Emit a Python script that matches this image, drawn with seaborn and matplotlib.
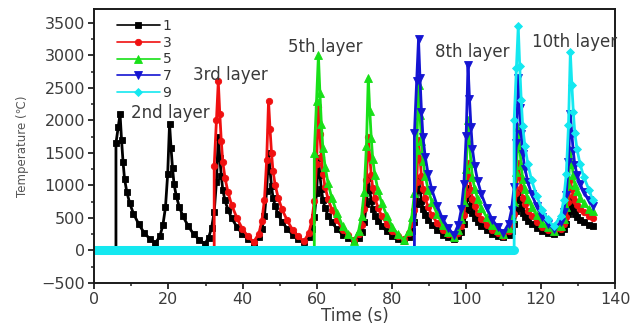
import numpy as np
import matplotlib
matplotlib.use("Agg")
import matplotlib.pyplot as plt
from matplotlib.ticker import MultipleLocator, AutoMinorLocator
import seaborn as sns

sns.set_theme(style="white")
plt.rcParams["font.family"] = ["DejaVu Sans"]

nan = np.nan

# Laser pass peak times (s) and sample offsets (s) around each peak
pass_peak_s = [7.0, 20.3, 33.4, 46.9, 60.3, 73.7, 87.2, 100.5, 114.0, 128.0]
offset_s = [-2.6, -1.8, -1.1, -0.5, 0.0, 0.4, 0.8, 1.2, 1.8, 2.6, 3.6, 5.0, 6.5, 8.0, 9.5]
end_time_s = 134.0

layer_labels = ["1", "3", "5", "7", "9"]
first_pass = [0, 2, 4, 6, 8]
end_temp = [380, 500, 600, 690, 780]

# Temperature (deg C) per pass, sampled at pass_peak + offset_s
temp_layer1 = [
    [nan, nan, 1650, 1900, 2100, 1702, 1364, 1105, 906, 727, 568, 408, 269, 180, 110],
    [220, 386, 662, 1177, 1950, 1580, 1266, 1025, 840, 674, 526, 378, 248, 165, 100],
    [199, 348, 595, 1057, 1750, 1424, 1147, 935, 772, 625, 495, 365, 250, 177, 120],
    [203, 327, 534, 920, 1500, 1226, 993, 815, 678, 555, 445, 336, 240, 178, 130],
    [207, 324, 517, 878, 1420, 1164, 946, 780, 652, 537, 434, 332, 242, 185, 140],
    [199, 287, 434, 708, 1120, 926, 761, 635, 538, 451, 373, 296, 228, 184, 150],
    [208, 296, 441, 713, 1120, 930, 769, 645, 550, 465, 389, 313, 246, 203, 170],
    [217, 289, 407, 628, 960, 808, 679, 580, 504, 436, 375, 314, 261, 227, 200],
    [242, 305, 410, 606, 900, 770, 660, 575, 510, 452, 400, 348, 302, 273, 250],
    [282, 330, 409, 557, 780, 690, 614, 555, 510, 470, 434, 398],
]
temp_layer3 = [
    [nan, nan, 1300, 2000, 2600, 2106, 1686, 1365, 1118, 896, 698, 501, 328, 216, 130],
    [260, 456, 781, 1389, 2300, 1868, 1501, 1220, 1004, 810, 637, 464, 313, 216, 140],
    [264, 449, 758, 1335, 2200, 1792, 1445, 1180, 976, 792, 629, 466, 323, 231, 160],
    [255, 399, 637, 1082, 1750, 1434, 1165, 960, 802, 660, 533, 407, 296, 225, 170],
    [262, 400, 629, 1057, 1700, 1400, 1145, 950, 800, 665, 545, 425, 320, 253, 200],
    [269, 373, 545, 867, 1350, 1126, 936, 790, 678, 577, 488, 398, 320, 269, 230],
    [297, 398, 566, 880, 1350, 1136, 954, 815, 708, 612, 526, 441, 366, 317, 280],
    [328, 400, 520, 744, 1080, 952, 843, 760, 696, 638, 587, 536],
]
temp_layer5 = [
    [nan, nan, 1500, 2300, 3000, 2430, 1946, 1575, 1290, 1034, 806, 578, 378, 250, 150],
    [300, 525, 900, 1600, 2650, 2152, 1729, 1405, 1156, 932, 733, 534, 359, 247, 160],
    [303, 519, 877, 1546, 2550, 2082, 1684, 1380, 1146, 935, 748, 561, 397, 292, 210],
    [317, 479, 747, 1248, 2000, 1650, 1353, 1125, 950, 793, 653, 513, 390, 311, 250],
    [349, 498, 745, 1207, 1900, 1580, 1308, 1100, 940, 796, 668, 540, 428, 356, 300],
    [375, 488, 675, 1025, 1550, 1336, 1154, 1015, 908, 812, 726, 641],
]
temp_layer7 = [
    [nan, nan, 1800, 2600, 3250, 2648, 2136, 1745, 1444, 1173, 932, 692, 481, 345, 240],
    [397, 632, 1023, 1754, 2850, 2334, 1895, 1560, 1302, 1070, 863, 657, 476, 360, 270],
    [413, 627, 984, 1650, 2650, 2186, 1792, 1490, 1258, 1049, 864, 678, 516, 411, 330],
    [436, 596, 861, 1357, 2100, 1788, 1523, 1320, 1164, 1024, 899, 774],
]
temp_layer9 = [
    [nan, nan, 2000, 2800, 3450, 2834, 2310, 1910, 1602, 1325, 1078, 832, 616, 478, 370],
    [531, 772, 1174, 1924, 3050, 2552, 2129, 1805, 1556, 1332, 1133, 934],
]

layer_temps = [temp_layer1, temp_layer3, temp_layer5, temp_layer7, temp_layer9]

layer_text = ["2nd layer", "3rd layer", "5th layer", "8th layer", "10th layer"]
layer_text_x = [9.9, 26.6, 52.0, 91.7, 117.7]
layer_text_y = [2115, 2700, 3130, 3054, 3208]

colors = ["#000000", "#f01010", "#18e018", "#1414d2", "#14e8f0"]
markers = ["s", "o", "^", "v", "D"]
marker_sizes = [4.2, 4.6, 5.2, 5.2, 4.4]


def build_curve(first, passes, end_value):
    """Ambient stretch at 0 deg C, then the sampled thermal cycles."""
    t, temp = [0.0], [0.0]
    started = False
    for k, vals in enumerate(passes):
        peak = pass_peak_s[first + k]
        for off, v in zip(offset_s, vals):
            if np.isnan(v):
                continue
            if not started:
                t.append(peak + off)
                temp.append(0.0)
                started = True
            t.append(peak + off)
            temp.append(v)
    t.append(end_time_s)
    temp.append(end_value)
    return np.array(t), np.array(temp)


fig = plt.figure(figsize=(6.33, 3.25), dpi=100)
ax = fig.add_axes([94 / 633, 1 - 283 / 325, 521 / 633, 274 / 325])

curves = []
for i, label in enumerate(layer_labels):
    t, temp = build_curve(first_pass[i], layer_temps[i], end_temp[i])
    curves.append((t, temp))
    sns.lineplot(x=t, y=temp, ax=ax, sort=False, estimator=None,
                 color=colors[i], marker=markers[i], markersize=marker_sizes[i],
                 markeredgecolor=colors[i], markeredgewidth=0.6,
                 linewidth=2.0, label=label)

# ambient (0 deg C) stretch of the last layer drawn as a heavy band
t9, temp9 = curves[-1]
n_amb = 2
sns.lineplot(x=t9[:n_amb], y=temp9[:n_amb], ax=ax, sort=False, estimator=None,
             color=colors[-1], linewidth=6.5, legend=False)

for txt, x, y in zip(layer_text, layer_text_x, layer_text_y):
    ax.text(x, y, txt, fontsize=12, color="#3a3a3a", ha="left", va="center",
            clip_on=False)

ax.set_xlim(0, 140)
ax.set_ylim(-500, 3715)
ax.xaxis.set_major_locator(MultipleLocator(20))
ax.yaxis.set_major_locator(MultipleLocator(500))
ax.xaxis.set_minor_locator(AutoMinorLocator(2))
ax.yaxis.set_minor_locator(AutoMinorLocator(2))
ax.tick_params(which="major", direction="out", length=4.5, width=1.3,
               color="#222222", labelcolor="#3c3c3c", labelsize=11.5,
               left=True, bottom=True, pad=2)
ax.tick_params(which="minor", direction="out", length=2.5, width=1.1,
               color="#222222", left=True, bottom=True)
for s in ax.spines.values():
    s.set_color("#1a1a1a")
    s.set_linewidth(1.4)

ax.set_xlabel("Time (s)", fontsize=12, color="#3c3c3c", labelpad=0)
ax.set_ylabel("Temperature (\u2103)", fontsize=8.5, color="#555555", labelpad=9)

leg = ax.legend(loc="upper left", bbox_to_anchor=(0.033, 0.984), frameon=False,
                fontsize=10, handlelength=3.1, handletextpad=0.2, labelspacing=0.2,
                borderaxespad=0.0, labelcolor="#333333")
for h in leg.legend_handles:
    h.set_linewidth(1.2)

fig.savefig("out.png", dpi=100)
